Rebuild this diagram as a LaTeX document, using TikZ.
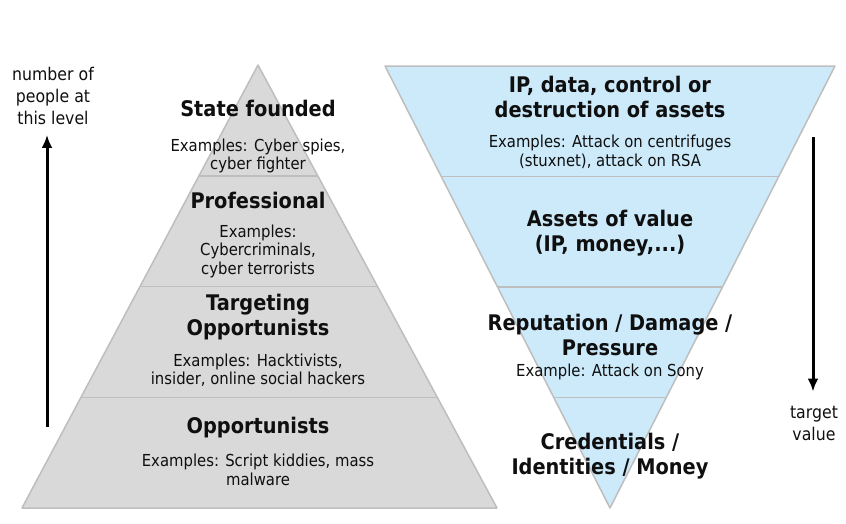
\documentclass[tikz,border=0pt]{standalone}
\usepackage{fontspec}
\setmainfont{DejaVu Sans}[FakeStretch=0.9]
\usetikzlibrary{calc,arrows.meta}
\definecolor{pyrgray}{RGB}{217,217,217}
\definecolor{edgegray}{RGB}{190,190,190}
\definecolor{valblue}{RGB}{204,234,250}
\definecolor{txtblack}{RGB}{15,15,15}

\tikzset{
    lvltitle/.style={font=\fontsize{21.5}{25}\selectfont\bfseries, align=center, text=txtblack, inner sep=0pt},
    lvlexample/.style={font=\fontsize{16.5}{18.5}\selectfont, align=center, text=txtblack, inner sep=0pt},
    sidelabel/.style={font=\fontsize{17.5}{22}\selectfont, align=center, text=txtblack, inner sep=0pt},
    layer/.style={draw=edgegray, line width=1.5pt, line join=round},
    axisarrow/.style={line width=3pt, -{Latex[length=13pt,width=11pt]}}
}

\begin{document}
\begin{tikzpicture}[x=1pt,y=-1pt]
        \useasboundingbox (0,0) rectangle (846,523);

        %corners of the pyramid
        \coordinate (PA) at (258,65);
        \coordinate (PL) at (22,508);
        \coordinate (PR) at (497,508);

        %corners of the funnel
        \coordinate (FL) at (385,66);
        \coordinate (FR) at (835,66);
        \coordinate (FA) at (610,508);

        % draw the pyramid
        \filldraw[layer, fill=pyrgray] (PA) -- (PL) -- (PR) -- cycle;
        \foreach \t in {0.25,0.5,0.75}
            \draw[layer] ($(PA)!\t!(PL)$) -- ($(PA)!\t!(PR)$);

        % draw the funnel
        \filldraw[layer, fill=valblue] (FL) -- (FR) -- (FA) -- cycle;
        \foreach \t in {0.25,0.5,0.75}
            \draw[layer] ($(FL)!\t!(FA)$) -- ($(FR)!\t!(FA)$);

        %levels of attackers
        \node[lvltitle] (sfT) at (258,108) {State founded};
        \node[lvlexample] (sfE) at (258,156) {Examples: Cyber spies,\\cyber fighter};
        \node[lvltitle] (prT) at (258,200) {Professional};
        \node[lvlexample] (prE) at (258,251) {Examples:\\Cybercriminals,\\cyber terrorists};
        \node[lvltitle] (toT) at (258,317) {Targeting\\Opportunists};
        \node[lvlexample] (toE) at (258,370) {Examples: Hacktivists,\\insider, online social\ hackers};
        \node[lvltitle] (opT) at (258,428) {Opportunists};
        \node[lvlexample] (opE) at (258,470) {Examples: Script kiddies, mass\\malware};

        %levels of targets
        \node[lvltitle] (ipT) at (610,97) {IP, data, control or\\destruction of assets};
        \node[lvlexample] (ipE) at (610,152) {Examples: Attack on centrifuges\\(stuxnet), attack on RSA};
        \node[lvltitle] (avT) at (610,233) {Assets of value\\(IP, money,...)};
        \node[lvltitle] (rpT) at (610,335) {Reputation / Damage /\\Pressure};
        \node[lvlexample] (rpE) at (610,372) {Example: Attack on Sony};
        \node[lvltitle] (crT) at (610,456) {Credentials /\\Identities / Money};

        %number of people
        \node[sidelabel] (people) at (53,96) {number of\\people at\\this level};
        \coordinate (pbot) at (47,427);
        \draw[axisarrow] (pbot) -- ($(pbot |- people.south)+(0,10)$);

        %target value
        \node[sidelabel] (target) at (814,423) {target\\value};
        \coordinate (ttop) at (813,137);
        \draw[axisarrow] (ttop) -- ($(ttop |- target.north)+(0,-14)$);
    \end{tikzpicture}
\end{document}
